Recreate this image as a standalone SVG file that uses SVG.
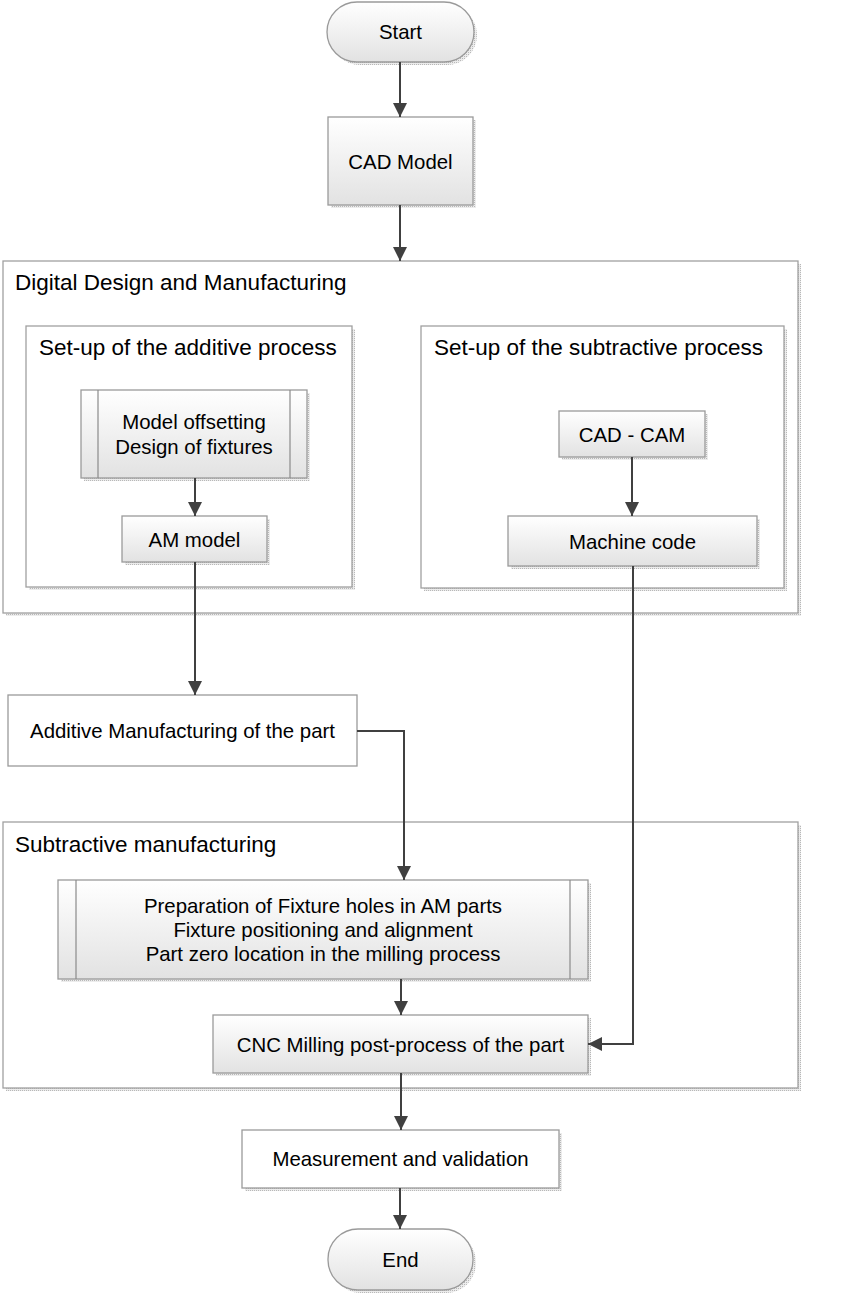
<svg xmlns="http://www.w3.org/2000/svg" width="850" height="1294" viewBox="0 0 850 1294">
<style>
  text { font-family: "Liberation Sans", Arial, sans-serif; fill: #000; }
  .t { font-size: 20.4px; text-anchor: middle; }
  .h { font-size: 22.5px; }
  .box { fill: url(#grad); stroke: #9a9a9a; stroke-width: 1.3; }
  .plain { fill: #fff; stroke: #9a9a9a; stroke-width: 1.3; }
  .cont { fill: #fff; stroke: #a0a0a0; stroke-width: 1.3; }
  .sh { fill: url(#dots); }
  .inner { stroke: #8a8a8a; stroke-width: 1.2; fill: none; }
  .conn { fill: none; stroke: #404040; stroke-width: 2; marker-end: url(#arr); }
</style>
<defs>
  <linearGradient id="grad" x1="0" y1="0" x2="0" y2="1">
    <stop offset="0" stop-color="#ffffff"/>
    <stop offset="1" stop-color="#e2e2e2"/>
  </linearGradient>
  <pattern id="dots" width="2" height="2" patternUnits="userSpaceOnUse">
    <rect width="2" height="2" fill="#ececec"/>
    <rect width="1" height="1" fill="#b8b8b8"/>
  </pattern>
  <marker id="arr" markerUnits="userSpaceOnUse" markerWidth="15" markerHeight="15" refX="14" refY="7" orient="auto">
    <path d="M0,0 L14,7 L0,14 z" fill="#404040"/>
  </marker>
</defs>
<rect width="850" height="1294" fill="#ffffff"/>

<g id="digital">
  <rect class="sh" x="6" y="264" width="795" height="352"/>
  <rect class="cont" x="3" y="261" width="795" height="352"/>
  <text class="h" x="15" y="290">Digital Design and Manufacturing</text>
</g>
<g id="setup-additive">
  <rect class="sh" x="29" y="329" width="326" height="261"/>
  <rect class="cont" x="26" y="326" width="326" height="261"/>
  <text class="h" x="39" y="355">Set-up of the additive process</text>
</g>
<g id="setup-subtractive">
  <rect class="sh" x="424" y="329" width="363" height="262"/>
  <rect class="cont" x="421" y="326" width="363" height="262"/>
  <text class="h" x="434" y="355">Set-up of the subtractive process</text>
</g>
<g id="subtractive">
  <rect class="sh" x="6" y="825" width="795" height="266"/>
  <rect class="cont" x="3" y="822" width="795" height="266"/>
  <text class="h" x="15" y="852">Subtractive manufacturing</text>
</g>

<g id="start">
  <rect class="sh" x="330" y="5" width="147" height="60" rx="30"/>
  <rect class="box" x="327" y="2" width="147" height="60" rx="30"/>
  <text class="t" x="400.5" y="39">Start</text>
</g>
<g id="cad-model">
  <rect class="sh" x="331" y="120" width="145" height="88"/>
  <rect class="box" x="328" y="117" width="145" height="88"/>
  <text class="t" x="400.5" y="169">CAD Model</text>
</g>
<g id="model-offsetting">
  <rect class="sh" x="84" y="393" width="226" height="88"/>
  <rect class="box" x="81" y="390" width="226" height="88"/>
  <line class="inner" x1="98" y1="390" x2="98" y2="478"/>
  <line class="inner" x1="290" y1="390" x2="290" y2="478"/>
  <text class="t" x="194" y="429">Model offsetting</text>
  <text class="t" x="194" y="454">Design of fixtures</text>
</g>
<g id="am-model">
  <rect class="sh" x="125" y="519" width="145" height="46"/>
  <rect class="box" x="122" y="516" width="145" height="46"/>
  <text class="t" x="194.5" y="547">AM model</text>
</g>
<g id="cad-cam">
  <rect class="sh" x="562" y="414" width="146" height="46"/>
  <rect class="box" x="559" y="411" width="146" height="46"/>
  <text class="t" x="632" y="442">CAD - CAM</text>
</g>
<g id="machine-code">
  <rect class="sh" x="511" y="519" width="249" height="50"/>
  <rect class="box" x="508" y="516" width="249" height="50"/>
  <text class="t" x="632.5" y="549">Machine code</text>
</g>
<g id="additive-manufacturing">
  <rect class="plain" x="8" y="695" width="349" height="71"/>
  <text class="t" x="182.5" y="738">Additive Manufacturing of the part</text>
</g>
<g id="preparation">
  <rect class="sh" x="61" y="883" width="530" height="99"/>
  <rect class="box" x="58" y="880" width="530" height="99"/>
  <line class="inner" x1="76" y1="880" x2="76" y2="979"/>
  <line class="inner" x1="570" y1="880" x2="570" y2="979"/>
  <text class="t" x="323" y="913">Preparation of Fixture holes in AM parts</text>
  <text class="t" x="323" y="937">Fixture positioning and alignment</text>
  <text class="t" x="323" y="961">Part zero location in the milling process</text>
</g>
<g id="cnc-milling">
  <rect class="sh" x="216" y="1018" width="375" height="58"/>
  <rect class="box" x="213" y="1015" width="375" height="58"/>
  <text class="t" x="400.5" y="1052">CNC Milling post-process of the part</text>
</g>
<g id="measurement">
  <rect class="sh" x="245" y="1133" width="317" height="58"/>
  <rect class="plain" x="242" y="1130" width="317" height="58"/>
  <text class="t" x="400.5" y="1166">Measurement and validation</text>
</g>
<g id="end">
  <rect class="sh" x="331" y="1232" width="145" height="61" rx="30"/>
  <rect class="box" x="328" y="1229" width="145" height="61" rx="30"/>
  <text class="t" x="400.5" y="1267">End</text>
</g>

<g id="connectors">
  <path class="conn" d="M400,62 V117"/>
  <path class="conn" d="M400,205 V261"/>
  <path class="conn" d="M195,478 V516"/>
  <path class="conn" d="M632,457 V516"/>
  <path class="conn" d="M195,562 V695"/>
  <path class="conn" d="M633,566 V1044 H588"/>
  <path class="conn" d="M357,731 H404 V880"/>
  <path class="conn" d="M401,979 V1015"/>
  <path class="conn" d="M401,1073 V1130"/>
  <path class="conn" d="M400,1188 V1229"/>
</g>
</svg>
